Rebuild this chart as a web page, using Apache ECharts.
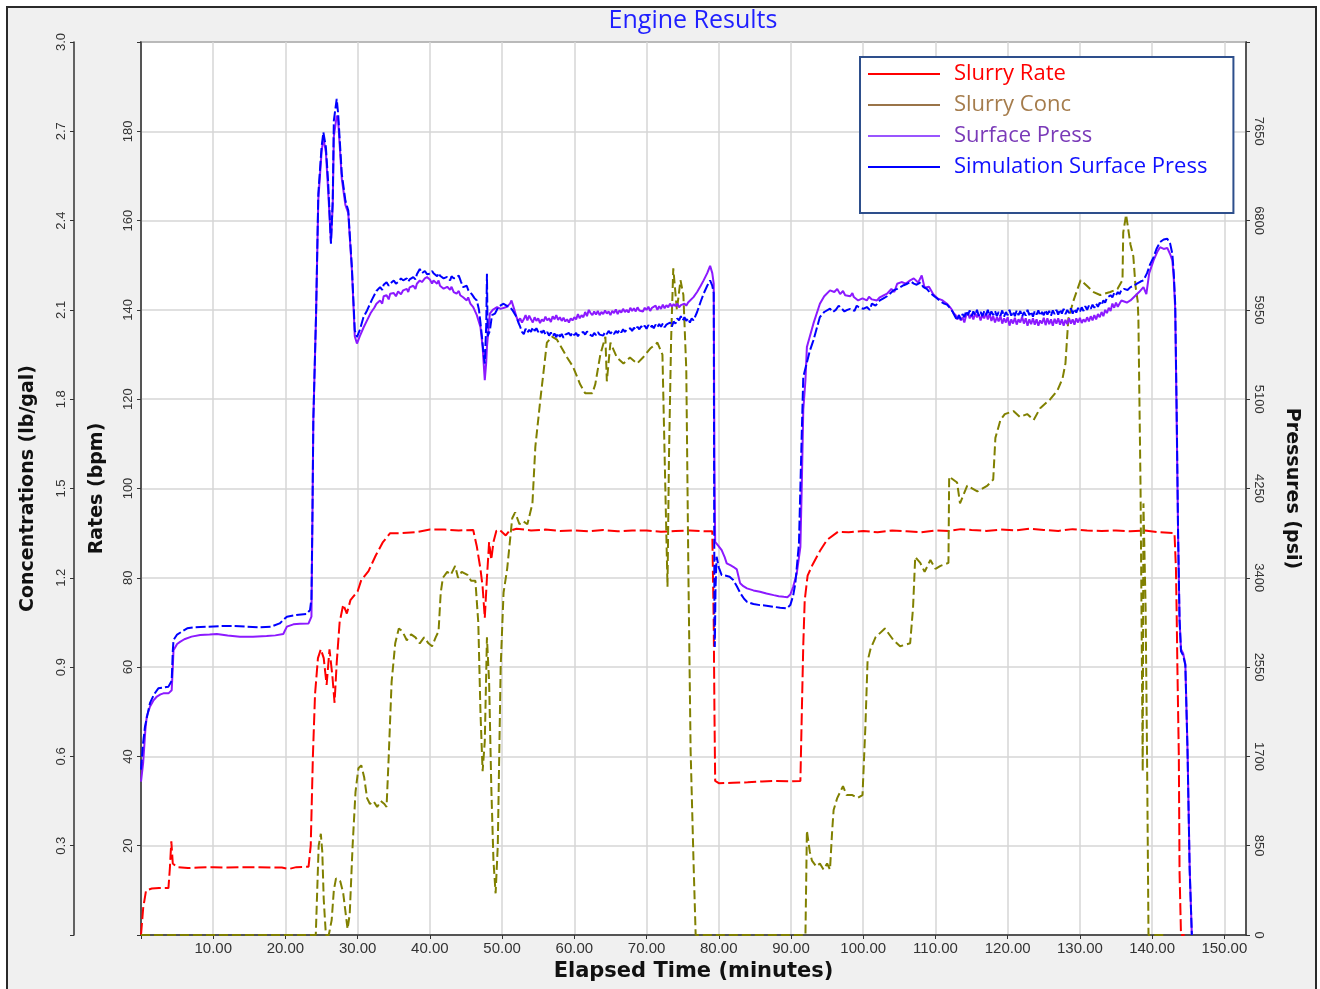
<!DOCTYPE html>
<html>
<head>
<meta charset="utf-8">
<script src="https://cdn.jsdelivr.net/npm/echarts@6/dist/echarts.min.js"></script>
<style>
html,body{margin:0;padding:0;background:#fff;}
#frame{position:absolute;left:6px;top:6px;width:1307px;height:985px;border:2px solid #2a2a2a;background:#f0f0f0;}
#chart{position:absolute;left:0;top:0;width:1320px;height:989px;}
</style>
</head>
<body>
<div id="frame"></div>
<div id="chart"></div>
<script>
// ---- data (time in minutes) ----
const seriesNames = ['Slurry Rate', 'Slurry Conc', 'Surface Press', 'Simulation Surface Press'];

// Slurry Rate [min, bpm]
const slurryRate = [
[0,0],[0.3,6],[0.7,10],[1.5,10.4],[2.5,10.5],[3.8,10.5],[4.0,15],[4.2,21],[4.4,16],[5,15.2],[6.5,15.0],[8,15.1],[10,15.2],[12,15.1],[14,15.2],[16,15.2],[18,15.1],[19.5,15.1],[20.5,14.8],[21.5,15.2],[23.2,15.3],
[23.5,20],[23.8,40],[24.1,54],[24.5,62],[24.9,64],[25.3,62],[25.7,56],[26.1,64],[26.5,58],[26.8,52],[27.1,61],[27.5,70],[28.0,74],[28.5,72],[29,75],[30,77],[30.5,79.5],[31.5,81.5],[32.5,85],[33.5,88],[34.5,90],[36,90],[38,90.2],[40,90.8],[42,90.8],[44,90.6],[46.0,90.7],
[46.5,87],[47.0,82],[47.3,78],[47.6,71],[47.9,80],[48.2,88],[48.5,84],[48.8,88],[49.2,90.5],[49.6,90.8],[50.5,89.5],[51,90.5],[52,91],[54,90.6],[56,90.8],[58,90.5],[60,90.6],[62,90.4],[64,90.7],[66,90.4],[68,90.6],[70,90.6],[72,90.3],[74,90.5],[76,90.6],[78,90.4],[79.1,90.4],
[79.3,70],[79.4,50],[79.5,34.5],[80,34],[82,34.1],[84,34.2],[86,34.4],[88,34.5],[90,34.4],[91.3,34.5],
[91.5,50],[91.7,65],[91.9,75],[92.3,80.5],[93,83],[94,86],[95,88.5],[96.5,90.3],[98,90.2],[100,90.5],[102,90.2],[104,90.6],[106,90.4],[108,90.2],[110,90.6],[112,90.5],[113.5,90.9],[115,90.7],[117,90.5],[119,90.8],[121,90.6],[123,91.0],[125,90.7],[127,90.5],[129,90.9],[131,90.6],[133,90.5],[135,90.6],[137,90.4],[139,90.6],[141,90.2],[143.1,90.0],
[143.3,82],[143.4,72],[143.5,60],[143.7,40],[143.8,14],[144.0,0],[144.5,0]
];

// Slurry Conc [min, lb/gal]
const slurryConc = [
[0,0],[24.2,0],[24.4,0.15],[24.6,0.3],[24.9,0.34],[25.1,0.28],[25.3,0.12],[25.6,0],[26.0,0],[26.4,0.05],[26.7,0.15],[27.0,0.19],[27.6,0.18],[28.0,0.14],[28.3,0.08],[28.6,0.02],[28.9,0.07],[29.3,0.3],[29.7,0.48],[30.1,0.56],[30.5,0.57],[30.9,0.53],[31.3,0.46],[31.7,0.44],[32.2,0.45],[32.7,0.43],[33.2,0.45],[33.7,0.44],[34.0,0.43],
[34.3,0.6],[34.7,0.85],[35.2,0.98],[35.7,1.03],[36.2,1.02],[36.8,0.99],[37.4,1.01],[38.0,1.0],[38.6,0.98],[39.2,1.0],[39.8,0.98],[40.3,0.97],[40.8,1.0],[41.2,1.02],[41.5,1.15],[41.8,1.2],[42.4,1.22],[42.9,1.21],[43.5,1.24],[43.9,1.2],[44.4,1.22],[45.2,1.21],[45.7,1.19],[46.3,1.19],
[46.7,1.05],[47.0,0.75],[47.3,0.55],[47.6,0.65],[47.9,1.0],[48.2,0.85],[48.5,0.5],[48.8,0.25],[49.1,0.14],[49.4,0.3],[49.8,0.9],[50.2,1.15],[50.7,1.23],[51.4,1.4],[51.8,1.42],[52.4,1.38],[52.9,1.39],[53.5,1.38],[54.2,1.45],[54.6,1.64],[55.3,1.8],[56.2,1.99],[56.9,2.01],[57.6,2.0],[59.0,1.94],[59.8,1.91],[60.8,1.85],[61.5,1.82],[62.5,1.82],[62.9,1.85],[63.6,1.95],[64.3,2.01],[64.5,1.86],[65.0,1.99],[65.9,1.94],[66.8,1.92],[67.7,1.94],[68.7,1.92],[69.5,1.94],[70.5,1.97],[71.5,1.99],[72.2,1.95],
[72.6,1.5],[72.9,1.17],[73.1,1.6],[73.4,2.0],[73.7,2.24],[74.2,2.1],[74.7,2.2],[75.1,2.15],[75.5,1.9],[75.8,1.2],[76.1,0.62],[76.5,0.25],[76.8,0],[92.0,0],
[92.2,0.35],[92.6,0.28],[92.9,0.25],[93.5,0.23],[94.0,0.24],[94.5,0.22],[95.0,0.24],[95.4,0.22],[95.7,0.35],[95.9,0.42],[96.4,0.46],[96.8,0.48],[97.2,0.5],[97.7,0.47],[98.5,0.47],[99.2,0.46],[99.9,0.47],
[100.3,0.7],[100.6,0.92],[101.0,0.96],[101.7,1.0],[103.0,1.03],[104.2,0.99],[105.1,0.97],[106.5,0.98],[106.9,1.1],[107.2,1.27],[107.9,1.25],[108.5,1.22],[109.3,1.26],[110.0,1.23],[110.7,1.24],[111.8,1.25],
[111.9,1.54],[113.0,1.52],[113.4,1.45],[114.4,1.51],[115.8,1.49],[117.2,1.51],[118.0,1.53],[118.3,1.67],[119.0,1.73],[119.6,1.75],[120.8,1.76],[121.7,1.74],[122.7,1.75],[123.6,1.73],[124.5,1.77],[125.9,1.8],[126.9,1.83],[127.6,1.87],[128.0,1.92],[128.4,2.07],[129.1,2.13],[130.1,2.2],[131.0,2.18],[131.9,2.16],[132.8,2.15],[134.2,2.16],[135.2,2.17],[135.9,2.2],
[136.0,2.36],[136.4,2.42],[137.0,2.32],[137.4,2.28],[137.7,2.18],[138.0,2.13],[138.1,2.07],[138.4,1.5],[138.7,0.55],[138.8,1.45],[139.1,1.1],[139.3,0.6],[139.5,0],[142,0]
];

// Surface Press [min, psi]
const surfacePress = [
[0,1460],[0.3,1640],[0.6,1950],[0.8,2080],[1.25,2175],[1.7,2230],[2.2,2270],[2.7,2290],[3.1,2300],[3.8,2300],[4.25,2330],[4.4,2540],[4.5,2710],[5.0,2770],[5.4,2790],[6.0,2815],[7.0,2840],[8.2,2855],[9.5,2860],[10.5,2865],[12.0,2850],[13.7,2840],[15.5,2838],[17.4,2845],[18.6,2852],[19.7,2865],[20.2,2935],[21.1,2957],[22.0,2962],[23.2,2966],
[23.6,3030],[23.74,4000],[23.86,4900],[24.24,5900],[24.55,7000],[25.0,7450],[25.25,7590],[25.6,7450],[25.9,7100],[26.3,6600],[26.55,6950],[26.7,7600],[27.1,7800],[27.3,7750],[27.8,7200],[28.3,6950],[28.7,6870],[28.9,6650],[29.2,6330],[29.6,5700],[29.9,5630],
[30.3,5700],[30.8,5780],[31.3,5850],[31.8,5920],[32.3,5970],[32.6,6009],[33.1,6040],[33.4,6010],[33.6,6080],[34.0,6090],[34.3,6050],[34.5,6104],[35.0,6110],[35.3,6080],[35.6,6125],[36.0,6100],[36.3,6136],[36.8,6150],[37.0,6120],[37.2,6165],[37.7,6180],[38.0,6150],[38.2,6199],[38.6,6230],[38.9,6215],[39.3,6250],[39.6,6262],[40.0,6240],[40.3,6200],[40.5,6230],[41.0,6200],[41.2,6230],[41.4,6180],[41.9,6152],[42.4,6170],[42.8,6140],[43.0,6170],[43.3,6120],[43.7,6104],[44.0,6130],[44.2,6090],[44.6,6070],[45.1,6040],[45.3,6070],[45.6,6010],[46.0,5977],[46.5,5900],[47.0,5787],[47.3,5600],[47.6,5280],[47.8,5450],[47.9,5600],[48.3,5914],[48.7,5950],[49.3,5977],[49.8,5960],[50.6,5977],[51.1,6010],[51.3,6040],[51.7,5950],
[52.0,5880],[52.25,5840],[52.5,5870],[52.75,5830],[53.0,5860],[53.25,5900],[53.5,5850],[53.75,5895],[54.0,5860],[54.25,5830],[54.5,5880],[54.75,5845],[55.0,5870],[55.25,5825],[55.5,5860],[55.75,5840],[56.0,5885],[56.25,5850],[56.5,5870],[56.75,5835],[57.0,5890],[57.25,5860],[57.5,5900],[57.75,5855],[58.0,5880],[58.25,5845],[58.5,5875],[58.75,5840],[59.0,5860],[59.25,5830],[59.5,5870],[59.75,5850],[60.0,5880],[60.25,5860],[60.5,5910],[60.75,5870],[61.0,5900],[61.25,5880],[61.5,5930],[61.75,5890],[62.0,5950],[62.25,5920],[62.5,5900],[62.75,5935],[63.0,5905],[63.25,5940],[63.5,5900],[63.75,5930],[64.0,5910],[64.25,5945],[64.5,5915],[64.75,5935],[65.0,5900],[65.25,5940],[65.5,5920],[65.75,5955],[66.0,5910],[66.25,5945],[66.5,5925],[66.75,5960],[67.0,5930],[67.25,5950],[67.5,5925],[67.75,5970],[68.0,5940],[68.25,5965],[68.5,5935],[68.75,5975],[69.0,5945],[69.25,5960],[69.5,5935],[69.75,5970],[70.0,5950],[70.25,5980],[70.5,5940],[70.75,5970],[71.0,5955],[71.25,5990],[71.5,5950],[71.75,5985],[72.0,5960],[72.25,6000],[72.5,5965],[72.75,5995],[73.0,5975],[73.25,6010],[73.5,5980],[73.75,6005],[74.0,5985],[74.25,6010],[74.5,5975],[74.75,5995],[75.0,5980],[75.25,6010],[75.5,5990],[75.75,6020],
[76.0,6030],[76.5,6072],[77.0,6120],[77.5,6180],[77.9,6231],[78.4,6300],[78.8,6370],[79.1,6300],[79.3,6200],
[79.4,4500],[79.5,3742],[79.7,3742],[80.0,3700],[80.4,3663],[80.8,3600],[81.1,3537],[81.6,3520],[82.0,3505],[82.5,3480],[82.96,3347],[83.4,3320],[83.9,3299],[84.8,3280],[85.7,3267],[86.6,3250],[87.6,3235],[88.3,3225],[89.0,3219],[89.5,3215],[89.9,3240],[90.3,3315],[90.8,3442],[91.3,3695],[91.5,4300],[91.7,5000],[92.0,5280],[92.2,5596],[93.1,5819],[94.0,6009],[94.6,6080],[95.4,6136],[96.0,6120],[96.4,6150],[96.8,6100],[97.2,6130],[97.5,6090],[98.2,6080],[98.5,6110],[98.7,6072],[99.3,6040],[99.9,6060],[100.5,6040],[100.8,6075],[101.2,6050],[101.9,6040],[102.3,6070],[102.6,6080],[103.3,6104],[103.9,6150],[104.3,6120],[104.7,6199],[105.3,6215],[105.9,6200],[106.5,6231],[107.0,6250],[107.6,6210],[108.1,6278],[108.5,6160],[109.1,6170],[109.7,6100],[110.3,6060],[111.0,6040],[111.6,6009],
[112.2,5960],[112.5,5920],[112.8,5900],[113.0,5860],[113.25,5900],[113.5,5850],[113.75,5880],[114.0,5830],[114.25,5900],[114.5,5920],[114.75,5870],[115.0,5910],[115.25,5860],[115.5,5920],[115.75,5880],[116.0,5910],[116.25,5850],[116.5,5900],[116.75,5870],[117.0,5920],[117.25,5860],[117.5,5915],[117.75,5845],[118.0,5890],[118.25,5830],[118.5,5880],[118.75,5840],[119.0,5895],[119.25,5820],[119.5,5870],[119.75,5830],[120.0,5880],[120.25,5800],[120.5,5860],[120.75,5820],[121.0,5875],[121.25,5810],[121.5,5860],[121.75,5830],[122.0,5885],[122.25,5820],[122.5,5870],[122.75,5800],[123.0,5860],[123.25,5815],[123.5,5870],[123.75,5810],[124.0,5860],[124.25,5800],[124.5,5850],[124.75,5820],[125.0,5875],[125.25,5805],[125.5,5870],[125.75,5815],[126.0,5860],[126.25,5800],[126.5,5865],[126.75,5820],[127.0,5870],[127.25,5810],[127.5,5860],[127.75,5800],[128.0,5855],[128.25,5815],[128.5,5870],[128.75,5820],[129.0,5860],[129.25,5810],[129.5,5870],[129.75,5830],[130.0,5875],[130.25,5825],[130.5,5860],[130.75,5835],[131.0,5880],[131.25,5840],[131.5,5890],[131.75,5850],[132.0,5900],[132.25,5860],[132.5,5910],[132.75,5880],[133.0,5930],[133.25,5890],[133.5,5950],[133.75,5920],[134.0,5970],[134.25,5940],[134.5,6010],[134.75,5970],[135.0,6020],[135.25,5980],[135.5,6010],[135.75,6040],
[136.0,6030],[136.5,6020],[137.0,6040],[137.6,6080],[138.2,6120],[138.8,6167],[139.2,6100],[139.6,6300],[140.2,6421],[140.7,6500],[141.1,6547],[141.6,6530],[142.1,6540],[142.5,6480],[142.8,6421],[143.0,6250],[143.2,5950],[143.4,4900],[143.6,3800],[143.8,3000],[144.0,2720],[144.3,2680],[144.6,2580],[144.9,1780],[145.2,640],[145.5,0]
];

// Simulation Surface Press [min, psi]
const simSurfacePress = [
[0,1574],[0.25,1800],[0.55,1983],[0.9,2100],[1.25,2209],[1.8,2290],[2.4,2348],[3.0,2355],[3.8,2364],[4.25,2420],[4.4,2700],[4.5,2808],[5.0,2860],[6.4,2919],[7.5,2930],[9.1,2934],[11.0,2940],[12.7,2941],[14.5,2935],[16.5,2928],[18.0,2935],[19.2,2966],[20.2,3030],[21.5,3045],[22.9,3055],[23.4,3093],
[23.6,3200],[23.74,4000],[23.86,4900],[24.24,5914],[24.55,7055],[25.0,7498],[25.25,7641],[25.6,7498],[25.9,7181],[26.3,6580],[26.55,7000],[26.7,7752],[27.1,7958],[27.3,7816],[27.8,7245],[28.3,6991],[28.7,6896],[28.9,6675],[29.2,6357],[29.6,5756],[29.9,5692],
[30.3,5760],[30.8,5880],[31.3,5945],[32.0,6050],[32.6,6130],[33.1,6167],[33.4,6140],[33.6,6190],[34.0,6214],[34.3,6180],[34.5,6200],[35.0,6230],[35.3,6200],[35.6,6215],[36.0,6250],[36.3,6231],[36.8,6250],[37.0,6220],[37.2,6240],[37.7,6262],[38.0,6240],[38.2,6290],[38.6,6340],[38.9,6300],[39.3,6320],[39.6,6290],[40.0,6294],[40.3,6320],[40.5,6300],[41.0,6270],[41.2,6300],[41.4,6275],[41.9,6250],[42.4,6265],[42.8,6231],[43.0,6270],[43.3,6250],[43.7,6260],[44.0,6276],[44.3,6220],[44.6,6167],[45.1,6180],[45.3,6140],[45.5,6120],[45.8,6100],[46.2,6060],[46.5,6040],[46.8,5950],[47.0,5830],[47.2,5700],[47.4,5550],[47.6,5439],[47.8,5800],[47.9,6294],[48.0,5700],[48.3,5750],[48.6,5900],[49.0,5914],[49.5,5980],[50.2,6009],[50.6,5990],[51.1,5977],[51.5,5940],
[52.0,5882],[52.25,5830],[52.5,5790],[52.75,5740],[53.0,5720],[53.25,5770],[53.5,5735],[53.75,5760],[54.0,5740],[54.25,5785],[54.5,5750],[54.75,5775],[55.0,5740],[55.25,5760],[55.5,5730],[55.75,5755],[56.0,5715],[56.25,5740],[56.5,5705],[56.75,5735],[57.0,5700],[57.25,5725],[57.5,5690],[57.75,5730],[58.0,5695],[58.25,5720],[58.5,5685],[58.75,5715],[59.0,5700],[59.25,5730],[59.5,5705],[59.75,5735],[60.0,5710],[60.25,5730],[60.5,5700],[60.75,5725],[61.0,5710],[61.25,5740],[61.5,5715],[61.75,5745],[62.0,5720],[62.25,5735],[62.5,5700],[62.75,5730],[63.0,5710],[63.25,5740],[63.5,5715],[63.75,5725],[64.0,5705],[64.25,5740],[64.5,5720],[64.75,5750],[65.0,5725],[65.25,5745],[65.5,5720],[65.75,5750],[66.0,5730],[66.25,5760],[66.5,5735],[66.75,5765],[67.0,5740],[67.25,5760],[67.5,5745],[67.75,5775],[68.0,5750],[68.25,5780],[68.5,5760],[68.75,5790],[69.0,5765],[69.25,5795],[69.5,5775],[69.75,5800],[70.0,5770],[70.25,5805],[70.5,5780],[70.75,5800],[71.0,5775],[71.25,5810],[71.5,5785],[71.75,5815],[72.0,5790],[72.25,5820],[72.5,5785],[72.75,5810],[73.0,5800],[73.25,5830],[73.5,5790],[73.75,5840],[74.0,5820],[74.25,5870],[74.5,5850],[74.75,5890],[75.0,5850],[75.25,5880],[75.5,5845],[75.75,5870],[76.0,5830],[76.25,5870],[76.5,5850],
[77.0,5930],[77.5,6030],[77.9,6104],[78.4,6180],[78.8,6231],[79.1,6180],[79.3,6110],
[79.35,4500],[79.4,3000],[79.45,2741],[79.55,3300],[79.7,3600],[80.0,3500],[80.4,3426],[81.0,3420],[81.5,3410],[82.0,3380],[82.5,3320],[83.0,3252],[83.5,3200],[83.9,3172],[84.8,3150],[85.7,3140],[86.6,3135],[87.6,3124],[88.5,3115],[89.4,3109],[89.9,3140],[90.3,3230],[90.6,3347],[91.1,3727],[91.5,4804],[91.7,5311],[92.2,5450],[92.6,5560],[93.1,5660],[94.0,5882],[94.6,5930],[95.4,5961],[95.8,5930],[96.2,5950],[96.6,5990],[97.0,5965],[97.4,5935],[97.8,5950],[98.2,5960],[98.8,5940],[99.1,5990],[99.4,5975],[100.0,5960],[100.5,5977],[100.9,5950],[101.2,6010],[101.7,5990],[102.3,6040],[102.8,6060],[103.3,6080],[103.8,6110],[104.2,6136],[104.7,6150],[105.2,6170],[105.6,6185],[106.1,6199],[106.6,6220],[107.0,6200],[107.4,6190],[107.9,6210],[108.3,6170],[108.8,6150],[109.3,6110],[109.7,6088],[110.2,6060],[110.7,6030],[111.2,6010],[111.6,6000],
[112.1,5960],[112.4,5930],[112.7,5890],[113.0,5850],[113.25,5900],[113.5,5860],[113.75,5910],[114.0,5880],[114.25,5940],[114.5,5900],[114.75,5945],[115.0,5890],[115.25,5935],[115.5,5900],[115.75,5950],[116.0,5895],[116.25,5930],[116.5,5890],[116.75,5935],[117.0,5900],[117.25,5950],[117.5,5895],[117.75,5935],[118.0,5900],[118.25,5940],[118.5,5890],[118.75,5930],[119.0,5895],[119.25,5945],[119.5,5885],[119.75,5930],[120.0,5900],[120.25,5950],[120.5,5895],[120.75,5935],[121.0,5890],[121.25,5945],[121.5,5900],[121.75,5940],[122.0,5885],[122.25,5930],[122.5,5895],[122.75,5950],[123.0,5900],[123.25,5935],[123.5,5885],[123.75,5940],[124.0,5905],[124.25,5945],[124.5,5895],[124.75,5930],[125.0,5900],[125.25,5950],[125.5,5905],[125.75,5940],[126.0,5895],[126.25,5945],[126.5,5910],[126.75,5950],[127.0,5905],[127.25,5955],[127.5,5915],[127.75,5960],[128.0,5910],[128.25,5950],[128.5,5920],[128.75,5965],[129.0,5915],[129.25,5960],[129.5,5925],[129.75,5970],[130.0,5930],[130.25,5975],[130.5,5940],[130.75,5985],[131.0,5950],[131.25,5990],[131.5,5960],[131.75,6000],[132.0,5970],[132.25,6010],[132.5,5980],[132.75,6020],[133.0,5995],[133.25,6040],[133.5,6020],[133.75,6065],[134.0,6050],[134.25,6090],[134.5,6070],[134.75,6110],[135.0,6090],[135.25,6120],[135.5,6100],[135.75,6140],
[136.1,6150],[136.6,6140],[137.0,6167],[137.5,6180],[137.9,6200],[138.4,6220],[138.8,6231],[139.3,6300],[139.7,6380],[140.2,6452],[140.6,6530],[141.1,6595],[141.6,6620],[142.1,6627],[142.5,6580],[142.8,6484],[143.0,6300],[143.2,6000],[143.4,5000],[143.6,3800],[143.8,3000],[144.0,2700],[144.3,2660],[144.6,2570],[144.9,1760],[145.2,620],[145.5,0]
];

// axis ranges
const timeRange = [0, 153, 10];
const rateRange = [0, 200, 20];
const concRange = [0, 3.0, 0.3];
const pressRange = [0, 8500, 850];

const tickFont = 'Liberation Sans, Arial, sans-serif';
const nameFont = 'DejaVu Sans, Verdana, sans-serif';
const legendColors = ['#ff0000', '#9a7448', '#9955ff', '#0000ff'];
const legendTextColors = ['#ff0000', '#a57c4c', '#7a3ab8', '#1010ff'];

const chart = echarts.init(document.getElementById('chart'), null, {renderer: 'canvas'});
chart.setOption({
  animation: false,
  backgroundColor: 'transparent',
  title: {
    text: 'Engine Results', left: 688, top: 3, textAlign: 'center',
    textStyle: {color: '#1f1fff', fontSize: 25, fontWeight: 'normal', fontFamily: 'Open Sans, sans-serif'}
  },
  legend: {
    orient: 'vertical', left: 860, top: 57,
    itemWidth: 72, itemHeight: 2, itemGap: 9, icon: 'rect',
    padding: [6, 26, 35, 8],
    backgroundColor: '#fff', borderColor: '#2e4f8c', borderWidth: 2, borderRadius: 0,
    textStyle: {fontSize: 22, lineHeight: 21, fontFamily: 'Open Sans, sans-serif', padding: [0, 0, 0, 9]},
    data: seriesNames.map((n, i) => ({
      name: n, icon: 'rect',
      textStyle: {color: legendTextColors[i]},
      itemStyle: {color: legendColors[i], borderWidth: 0}
    }))
  },
  grid: {
    left: 141, right: 74, top: 42, bottom: 54, show: true,
    backgroundColor: '#ffffff', borderColor: '#3a3a3a', borderWidth: 1.5
  },
  xAxis: {
    type: 'value', min: timeRange[0], max: timeRange[1], interval: timeRange[2],
    name: 'Elapsed Time (minutes)', nameLocation: 'middle', nameGap: 21,
    nameTextStyle: {fontSize: 21, fontWeight: 'bold', color: '#111', fontFamily: nameFont},
    axisLine: {show: true, lineStyle: {color: '#333', width: 1.5}},
    axisTick: {show: true, length: 4, lineStyle: {color: '#333'}},
    axisLabel: {
      color: '#333', fontSize: 15, fontFamily: tickFont, margin: 6, showMaxLabel: false,
      formatter: v => (v === 0 || v % 10 !== 0) ? '' : v.toFixed(2)
    },
    splitLine: {show: true, lineStyle: {color: '#d6d6d6', width: 1.5}}
  },
  yAxis: [
    {
      type: 'value', position: 'left', min: rateRange[0], max: rateRange[1], interval: rateRange[2],
      name: 'Rates (bpm)', nameLocation: 'middle', nameGap: 34, nameRotate: 90,
      nameTextStyle: {fontSize: 19, fontWeight: 'bold', color: '#111', fontFamily: nameFont},
      axisLine: {show: true, lineStyle: {color: '#333', width: 1.5}},
      axisTick: {show: true, length: 4, lineStyle: {color: '#333'}},
      axisLabel: {rotate: 90, color: '#333', fontSize: 13, fontFamily: tickFont, margin: 6,
        formatter: v => (v === 0 || v === 200) ? '' : String(v)},
      splitLine: {show: true, lineStyle: {color: '#d6d6d6', width: 1.5}}
    },
    {
      type: 'value', position: 'left', offset: 67, min: concRange[0], max: concRange[1], interval: concRange[2],
      name: 'Concentrations (lb/gal)', nameLocation: 'middle', nameGap: 36, nameRotate: 90,
      nameTextStyle: {fontSize: 19, fontWeight: 'bold', color: '#111', fontFamily: nameFont},
      axisLine: {show: true, lineStyle: {color: '#333', width: 1.5}},
      axisTick: {show: true, length: 4, lineStyle: {color: '#333'}},
      axisLabel: {rotate: 90, color: '#333', fontSize: 13, fontFamily: tickFont, margin: 6,
        formatter: v => v === 0 ? '' : v.toFixed(1)},
      splitLine: {show: false}
    },
    {
      type: 'value', position: 'right', min: pressRange[0], max: pressRange[1], interval: pressRange[2],
      name: 'Pressures (psi)', nameLocation: 'middle', nameGap: 36, nameRotate: -90,
      nameTextStyle: {fontSize: 19, fontWeight: 'bold', color: '#111', fontFamily: nameFont},
      axisLine: {show: true, lineStyle: {color: '#333', width: 1.5}},
      axisTick: {show: true, length: 4, lineStyle: {color: '#333'}},
      axisLabel: {rotate: -90, color: '#333', fontSize: 13, fontFamily: tickFont, margin: 6,
        formatter: v => v === 8500 ? '' : String(v)},
      splitLine: {show: false}
    }
  ],
  series: [
    {name: seriesNames[0], type: 'line', yAxisIndex: 0, data: slurryRate, symbol: 'none', z: 3,
      lineStyle: {color: '#ff0000', width: 2, type: [12, 4]}, itemStyle: {color: '#ff0000'}},
    {name: seriesNames[1], type: 'line', yAxisIndex: 1, data: slurryConc, symbol: 'none', z: 3,
      lineStyle: {color: '#808000', width: 2, type: [9, 4]}, itemStyle: {color: '#808000'}},
    {name: seriesNames[2], type: 'line', yAxisIndex: 2, data: surfacePress, symbol: 'none', z: 4,
      lineStyle: {color: '#8c1aff', width: 2, type: 'solid'}, itemStyle: {color: '#8c1aff'}},
    {name: seriesNames[3], type: 'line', yAxisIndex: 2, data: simSurfacePress, symbol: 'none', z: 5,
      lineStyle: {color: '#0000ff', width: 2, type: [10, 3]}, itemStyle: {color: '#0000ff'}}
  ]
});
</script>
</body>
</html>
